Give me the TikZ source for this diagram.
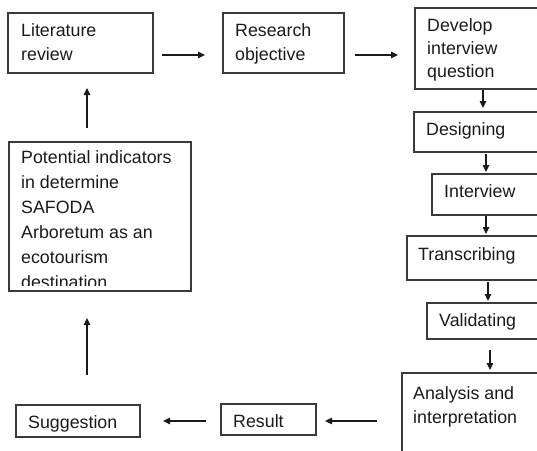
\documentclass[tikz,border=0pt]{standalone}
\usepackage{fontspec}
\setmainfont{Liberation Sans}
\usetikzlibrary{calc,arrows.meta}
\definecolor{ink}{HTML}{1A1A1A}
\definecolor{frame}{HTML}{3A3A3A}
\begin{document}
\begin{tikzpicture}[x=1pt,y=-1pt,
  box/.style={draw=frame,line width=1.1pt,anchor=north west,inner sep=0pt,outer sep=0pt},
  txt/.style={anchor=north west,inner sep=0pt,align=left,text=ink,
    font=\fontsize{17.8pt}{24pt}\selectfont},
  arr/.style={draw=ink,line width=1.1pt,-{Triangle[length=7pt,width=6.5pt]}}]
\useasboundingbox (0,0) rectangle (537,450);
\clip (0,0) rectangle (537,450);

% boxes
\node[box,minimum width=145pt,minimum height=60pt] (lit) at (8,13) {};
\node[box,minimum width=121pt,minimum height=60pt] (research) at (223,13) {};
\node[box,minimum width=130pt,minimum height=81pt] (develop) at (415,8) {};
\node[box,minimum width=131pt,minimum height=40pt] (designing) at (414,112) {};
\node[box,minimum width=113pt,minimum height=41pt] (interview) at (432,174) {};
\node[box,minimum width=138pt,minimum height=44pt] (transcribing) at (407,236) {};
\node[box,minimum width=118pt,minimum height=36pt] (validating) at (427,303) {};
\node[box,minimum width=143pt,minimum height=97pt] (analysis) at (402,373) {};
\node[box,minimum width=95pt,minimum height=31pt] (result) at (221,404) {};
\node[box,minimum width=124pt,minimum height=32pt] (suggestion) at (16,405) {};
\node[box,minimum width=182pt,minimum height=149pt] (potential) at (9,142) {};

% labels
\node[txt] (litT) at (21,23.2) {Literature\\review};
\node[txt] (researchT) at (235,23.2) {Research\\objective};
\node[txt,font=\fontsize{17.8pt}{23pt}\selectfont] (developT) at (427,18.2) {Develop\\interview\\question};
\node[txt] (designingT) at (426,122.2) {Designing};
\node[txt] (interviewT) at (444,184.2) {Interview};
\node[txt] (transcribingT) at (418,247.2) {Transcribing};
\node[txt] (validatingT) at (439,313.2) {Validating};
\node[txt] (analysisT) at (413,386.2) {Analysis and\\interpretation};
\node[txt] (resultT) at (233,414.2) {Result};
\node[txt] (suggestionT) at (28,415.2) {Suggestion};
% the last line runs past the inner margin of the frame and is cut off
\begin{scope}
  \clip (9,142) rectangle (191,285);
  \node[txt,font=\fontsize{17.8pt}{25pt}\selectfont] (potentialT) at (21,150.2)
    {Potential indicators\\in determine\\SAFODA\\Arboretum as an\\ecotourism\\destination};
\end{scope}

% connectors
\draw[arr,shorten <=9pt,shorten >=18pt] ($(lit.east)+(0,12)$) -- ($(research.west)+(0,12)$);
\draw[arr,shorten <=11pt,shorten >=17pt] ($(research.east)+(0,12)$) -- ($(research.east -| develop.west)+(0,12)$);
\draw[arr,shorten <=1pt,shorten >=4pt] ($(develop.south)+(3,0)$) -- ($(develop.south |- designing.north)+(3,0)$);
\draw[arr,shorten <=2pt,shorten >=2pt] ($(designing.south)+(6.5,0)$) -- ($(designing.south |- interview.north)+(6.5,0)$);
\draw[arr,shorten <=1pt,shorten >=2pt] ($(interview.south)+(-2.5,0)$) -- ($(interview.south |- transcribing.north)+(-2.5,0)$);
\draw[arr,shorten <=2pt,shorten >=2pt] ($(transcribing.south)+(12,0)$) -- ($(transcribing.south |- validating.north)+(12,0)$);
\draw[arr,shorten <=11pt,shorten >=3pt] ($(validating.south)+(4,0)$) -- ($(validating.south |- analysis.north)+(4,0)$);
\draw[arr,shorten <=25pt,shorten >=9pt] ($(analysis.west |- result.east)+(0,1.5)$) -- ($(result.east)+(0,1.5)$);
\draw[arr,shorten <=15pt,shorten >=23pt] ($(result.west)+(0,1.5)$) -- ($(result.west -| suggestion.east)+(0,1.5)$);
\draw[arr,shorten <=30pt,shorten >=27pt] ($(suggestion.north)+(9,0)$) -- ($(suggestion.north |- potential.south)+(9,0)$);
\draw[arr,shorten <=14pt,shorten >=15pt] ($(lit.south |- potential.north)+(6.5,0)$) -- ($(lit.south)+(6.5,0)$);
\end{tikzpicture}
\end{document}
